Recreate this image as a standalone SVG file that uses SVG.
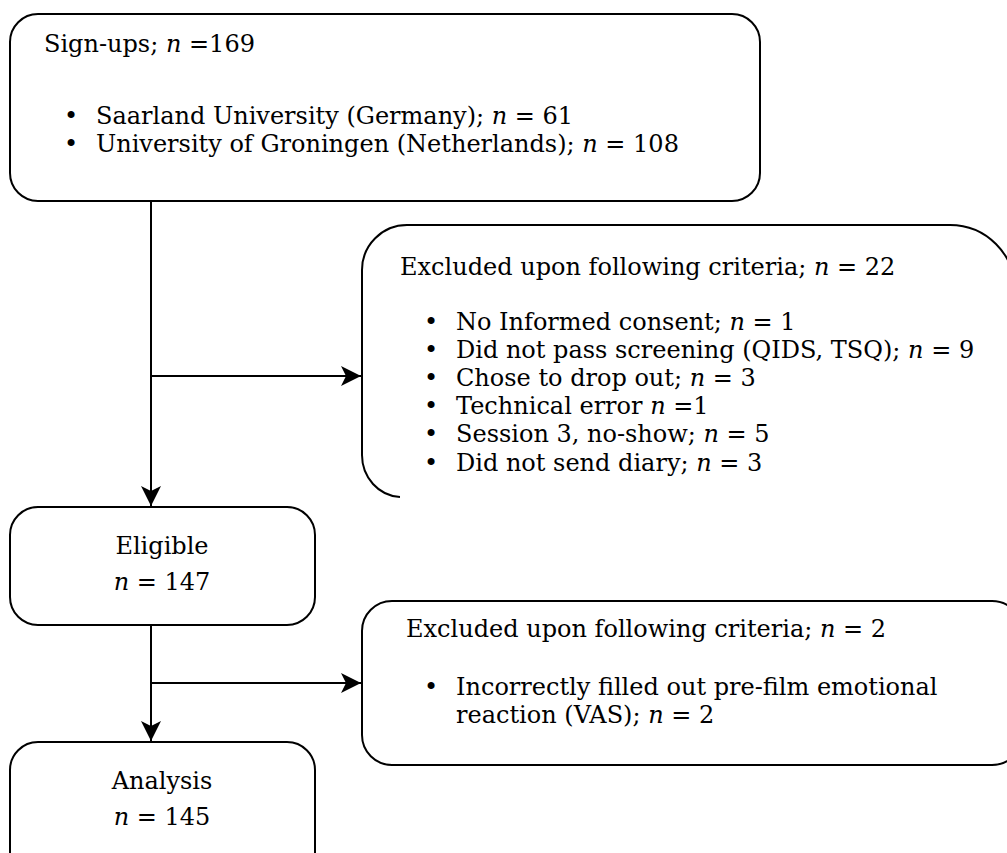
<svg xmlns="http://www.w3.org/2000/svg" width="1007" height="853" viewBox="0 0 1007 853">
<style>
.box{fill:#fff;stroke:#000;stroke-width:2}
.edge{fill:none;stroke:#000;stroke-width:2}
text{font-family:"DejaVu Serif","Liberation Serif",serif;font-size:24px;fill:#000}
.i{font-style:italic}
.c{text-anchor:middle}
</style>
<defs>
<marker id="ah" markerUnits="userSpaceOnUse" markerWidth="22" markerHeight="22" refX="20" refY="10" orient="auto" viewBox="0 0 22 22">
<path d="M0,0 L20,10 L0,20 L5,10 z" fill="#000"/>
</marker>
</defs>
<g id="connectors">
<line class="edge" x1="151" y1="201" x2="151" y2="506" marker-end="url(#ah)"/>
<line class="edge" x1="151" y1="376" x2="361" y2="376" marker-end="url(#ah)"/>
<line class="edge" x1="151" y1="625" x2="151" y2="741" marker-end="url(#ah)"/>
<line class="edge" x1="151" y1="683" x2="361" y2="683" marker-end="url(#ah)"/>
</g>
<g id="signups">
<rect class="box" x="10" y="14" width="750" height="187" rx="28"/>
<text x="44" y="52">Sign-ups; <tspan class="i">n</tspan> =169</text>
<text x="64" y="124">•</text>
<text x="96" y="124">Saarland University (Germany); <tspan class="i">n</tspan> = 61</text>
<text x="64" y="152">•</text>
<text x="96" y="152">University of Groningen (Netherlands); <tspan class="i">n</tspan> = 108</text>
</g>
<g id="excluded1">
<path class="edge" d="M400,497 A40,42 0 0 1 362,455 L362,270 A45,45 0 0 1 407,225 L950,225 A65,65 0 0 1 1015,290"/>
<text x="400" y="275">Excluded upon following criteria; <tspan class="i">n</tspan> = 22</text>
<text x="424" y="330">•</text>
<text x="456" y="330">No Informed consent; <tspan class="i">n</tspan> = 1</text>
<text x="424" y="358">•</text>
<text x="456" y="358">Did not pass screening (QIDS, TSQ); <tspan class="i">n</tspan> = 9</text>
<text x="424" y="386">•</text>
<text x="456" y="386">Chose to drop out; <tspan class="i">n</tspan> = 3</text>
<text x="424" y="414">•</text>
<text x="456" y="414">Technical error <tspan class="i">n</tspan> =1</text>
<text x="424" y="442">•</text>
<text x="456" y="442">Session 3, no-show; <tspan class="i">n</tspan> = 5</text>
<text x="424" y="471">•</text>
<text x="456" y="471">Did not send diary; <tspan class="i">n</tspan> = 3</text>
</g>
<g id="eligible">
<rect class="box" x="10" y="507" width="305" height="118" rx="28"/>
<text class="c" x="162" y="554">Eligible</text>
<text class="c" x="162" y="590"><tspan class="i">n</tspan> = 147</text>
</g>
<g id="excluded2">
<rect class="box" x="362" y="601" width="660" height="164" rx="30"/>
<text x="406" y="637">Excluded upon following criteria; <tspan class="i">n</tspan> = 2</text>
<text x="424" y="695">•</text>
<text x="456" y="695">Incorrectly filled out pre-film emotional</text>
<text x="456" y="723">reaction (VAS); <tspan class="i">n</tspan> = 2</text>
</g>
<g id="analysis">
<rect class="box" x="10" y="742" width="305" height="140" rx="28"/>
<text class="c" x="162" y="789">Analysis</text>
<text class="c" x="162" y="825"><tspan class="i">n</tspan> = 145</text>
</g>
</svg>
